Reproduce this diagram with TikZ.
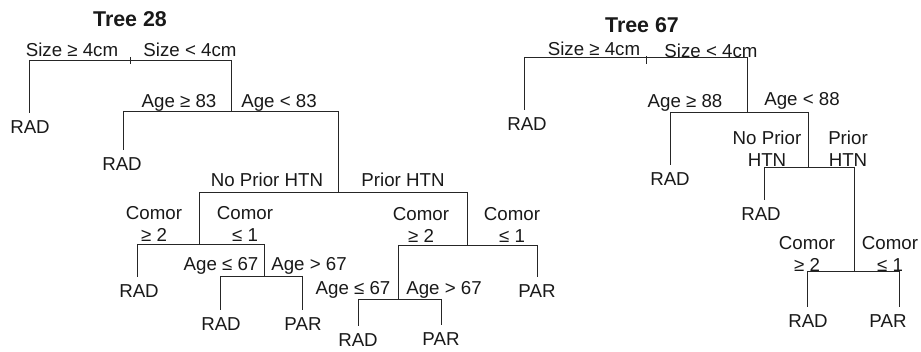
\documentclass[tikz,border=0pt]{standalone}
\usepackage{fontspec}
\setmainfont{Liberation Sans}
% two stacked, centred lines sharing the first line's baseline
\newcommand\twoline[2]{\begin{tabular}[t]{@{}c@{}}#1\\#2\end{tabular}}
\begin{document}
\begin{tikzpicture}[x=1pt,y=-1pt,
  edge/.style={draw=black!85, line width=0.95pt},
  lbl/.style={anchor=base, inner sep=0pt, text=black!90,
    font=\fontsize{18.7}{21.5}\selectfont},
  leaf/.style={lbl, text height=13.4pt, text depth=0pt, outer ysep=8pt},
  title/.style={anchor=base, inner sep=0pt, text=black!90,
    font=\fontsize{21.4}{24}\selectfont\bfseries}]
\useasboundingbox (0,0) rectangle (921,352);

% ---------------- Tree 28 ----------------
\node[title] (t28) at (130,27) {Tree 28};

\node[leaf] (rad1) at (30,134) {RAD};
\node[leaf] (rad2) at (122,171) {RAD};
\node[leaf] (rad3) at (139,298) {RAD};
\node[leaf] (rad4) at (221,331) {RAD};
\node[leaf] (par1) at (303,331) {PAR};
\node[leaf] (par2) at (537,298) {PAR};
\node[leaf] (rad5) at (358,347) {RAD};
\node[leaf] (par3) at (441,346) {PAR};

\coordinate (a)  at (130,60);
\coordinate (aL) at (29,60);   \coordinate (aR) at (231,60);
\coordinate (b)  at (231,111);
\coordinate (bL) at (123,111); \coordinate (bR) at (338,111);
\coordinate (c)  at (338,192);
\coordinate (cL) at (199,192); \coordinate (cR) at (467,192);
\coordinate (d)  at (199,244);
\coordinate (dL) at (137,244); \coordinate (dR) at (264,244);
\coordinate (e)  at (264,276);
\coordinate (eL) at (220,276); \coordinate (eR) at (302,276);
\coordinate (f)  at (467,245);
\coordinate (fL) at (398,245); \coordinate (fR) at (537,245);
\coordinate (g)  at (398,299);
\coordinate (gL) at (358,299); \coordinate (gR) at (441,299);

\draw[edge] (aL) -- (aR);
\draw[edge] (a) ++(0,-3) -- ++(0,7);
\draw[edge] (aL) -- (aL |- rad1.north);
\draw[edge] (aR) -- (b);
\draw[edge] (bL) -- (bR);
\draw[edge] (bL) -- (bL |- rad2.north);
\draw[edge] (bR) -- (c);
\draw[edge] (cL) -- (cR);
\draw[edge] (cL) -- (d);
\draw[edge] (dL) -- (dR);
\draw[edge] (dL) -- (dL |- rad3.north);
\draw[edge] (dR) -- (e);
\draw[edge] (eL) -- (eR);
\draw[edge] (eL) -- (eL |- rad4.north);
\draw[edge] (eR) -- (eR |- par1.north);
\draw[edge] (cR) -- (f);
\draw[edge] (fL) -- (fR);
\draw[edge] (fR) -- (fR |- par2.north);
\draw[edge] (fL) -- (g);
\draw[edge] (gL) -- (gR);
\draw[edge] (gL) -- (gL |- rad5.north);
\draw[edge] (gR) -- (gR |- par3.north);

\node[lbl] (sz1a) at (72,57)   {Size ≥ 4cm};
\node[lbl] (sz1b) at (190,57)  {Size < 4cm};
\node[lbl] (ag1a) at (179,108) {Age ≥ 83};
\node[lbl] (ag1b) at (279,108) {Age < 83};
\node[lbl] (ht1a) at (267,187) {No Prior HTN};
\node[lbl] (ht1b) at (403,187) {Prior HTN};
\node[lbl] (cm1a) at (154,220) {\twoline{Comor}{≥ 2}};
\node[lbl] (cm1b) at (245,220) {\twoline{Comor}{≤ 1}};
\node[lbl] (ag2a) at (221,271) {Age ≤ 67};
\node[lbl] (ag2b) at (309,271) {Age > 67};
\node[lbl] (cm2a) at (421,221) {\twoline{Comor}{≥ 2}};
\node[lbl] (cm2b) at (512,221) {\twoline{Comor}{≤ 1}};
\node[lbl] (ag3a) at (353,295) {Age ≤ 67};
\node[lbl] (ag3b) at (444,295) {Age > 67};

% ---------------- Tree 67 ----------------
\node[title] (t67) at (642,33) {Tree 67};

\node[leaf] (rad6) at (527,131) {RAD};
\node[leaf] (rad7) at (670,186) {RAD};
\node[leaf] (rad8) at (761,221) {RAD};
\node[leaf] (rad9) at (808,328) {RAD};
\node[leaf] (par4) at (888,328) {PAR};

\coordinate (A)  at (646,57);
\coordinate (AL) at (524,57);  \coordinate (AR) at (747,57);
\coordinate (B)  at (747,112);
\coordinate (BL) at (670,112); \coordinate (BR) at (808,112);
\coordinate (C)  at (808,167);
\coordinate (CL) at (764,167); \coordinate (CR) at (854,167);
\coordinate (D)  at (854,271);
\coordinate (DL) at (807,271); \coordinate (DR) at (899,271);

\draw[edge] (AL) -- (AR);
\draw[edge] (A) ++(0,-1) -- ++(0,8);
\draw[edge] (AL) -- (AL |- rad6.north);
\draw[edge] (AR) -- (B);
\draw[edge] (BL) -- (BR);
\draw[edge] (BL) -- (BL |- rad7.north);
\draw[edge] (BR) -- (C);
\draw[edge] (CL) -- (CR);
\draw[edge] (CL) -- (CL |- rad8.north);
\draw[edge] (CR) -- (D);
\draw[edge] (DL) -- (DR);
\draw[edge] (DL) -- (DL |- rad9.north);
\draw[edge] (DR) -- (DR |- par4.north);

\node[lbl] (sz2a) at (594,56)  {Size ≥ 4cm};
\node[lbl] (sz2b) at (711,58)  {Size < 4cm};
\node[lbl] (ag4a) at (685,108) {Age ≥ 88};
\node[lbl] (ag4b) at (802,106) {Age < 88};
\node[lbl] (ht2a) at (767,145) {\twoline{No Prior}{HTN}};
\node[lbl] (ht2b) at (848,145) {\twoline{Prior}{HTN}};
\node[lbl] (cm3a) at (807,250) {\twoline{Comor}{≥ 2}};
\node[lbl] (cm3b) at (890,250) {\twoline{Comor}{≤ 1}};
\end{tikzpicture}
\end{document}
